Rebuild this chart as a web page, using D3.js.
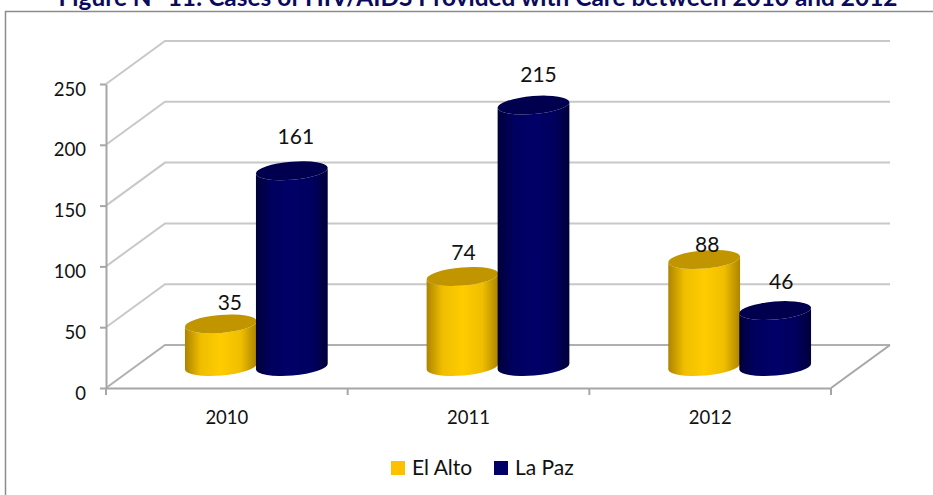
<!DOCTYPE html>
<html>
<head>
<meta charset="utf-8">
<script src="https://cdn.jsdelivr.net/npm/d3@7"></script>
<style>
html, body { margin: 0; padding: 0; background: #fff; overflow: hidden; }
svg { display: block; }
text { font-family: Lato, "Open Sans", sans-serif; fill: #111; }
.domain { stroke: #a6a6a6; stroke-width: 2; }
.tick line { stroke: #a6a6a6; stroke-width: 2; }
</style>
</head>
<body>
<div id="chart"></div>
<script>
var years = ["2010", "2011", "2012"];
var seriesNames = ["El Alto", "La Paz"];
var elAlto = [35, 74, 88];
var laPaz = [161, 215, 46];
var yTicks = [0, 50, 100, 150, 200, 250];
var title = "Figure N° 11: Cases of HIV/AIDS Provided with Care between 2010 and 2012";

var W = 933, H = 495;
// plot box, front plane
var LEFT = 106, RIGHT = 831, BOTTOM = 388, TOP = 84;
// how far the back wall is shifted from the front
var DEPTH_X = 59, DEPTH_Y = 43;
var RY = 9;
var TILT = -4.7; // degrees, the ellipses lean up to the right

// manual shifts of the value labels, [series][year]
var NUDGE = [
    [[9, -21], [1, -24], [3, -15]],
    [[4, -34], [5, -30], [6, -29]]
];

var COLORS = {
    "El Alto": {edge: "#ad8400", mid: "#ffcc00", top: "#c19500", legend: "#ffc000"},
    "La Paz": {edge: "#00003a", mid: "#000068", top: "#00004e", legend: "#000066"}
};

var values = [elAlto, laPaz];

var svg = d3.select('#chart').append('svg').attr('width', W).attr('height', H);

var x0 = d3.scaleBand().domain(years).range([LEFT, RIGHT]);
var x1 = d3.scaleBand().domain(seriesNames).range([-71, 71]);
var y = d3.scaleLinear().domain([0, 250]).range([BOTTOM, TOP]);

// gradients
var defs = svg.append('defs');
seriesNames.forEach(function(s, i) {
    var g = defs.append('linearGradient').attr('id', 'grad' + i);
    g.append('stop').attr('offset', '0%').attr('stop-color', COLORS[s].edge);
    g.append('stop').attr('offset', '22%').attr('stop-color', d3.interpolateRgb(COLORS[s].edge, COLORS[s].mid)(0.8));
    g.append('stop').attr('offset', '50%').attr('stop-color', COLORS[s].mid);
    g.append('stop').attr('offset', '78%').attr('stop-color', d3.interpolateRgb(COLORS[s].edge, COLORS[s].mid)(0.8));
    g.append('stop').attr('offset', '100%').attr('stop-color', COLORS[s].edge);
});

// chart frame, runs off the page on the right and bottom
svg.append('rect')
    .attr('x', 5.5).attr('y', 11.5).attr('width', W + 20).attr('height', H)
    .attr('fill', '#fff').attr('stroke', '#8c8c8c').attr('stroke-width', 1.5);

// title, cut off by the top of the page
svg.append('text')
    .attr('x', 478).attr('y', 6)
    .attr('text-anchor', 'middle')
    .style('font-size', '24.4px')
    .style('font-weight', 'bold')
    .style('fill', '#0a0a5e')
    .text(title);

// gridlines: side wall + back wall
var grid = svg.append('g');
yTicks.forEach(function(t) {
    var yy = y(t);
    grid.append('polyline')
        .attr('points', LEFT + ',' + yy + ' ' + (LEFT + DEPTH_X) + ',' + (yy - DEPTH_Y) + ' ' + (RIGHT + DEPTH_X) + ',' + (yy - DEPTH_Y))
        .attr('fill', 'none')
        .attr('stroke', t == 0 ? '#b0b0b0' : '#c8c8c8')
        .attr('stroke-width', 2);
});
// floor right edge
grid.append('line')
    .attr('x1', RIGHT).attr('y1', BOTTOM)
    .attr('x2', RIGHT + DEPTH_X).attr('y2', BOTTOM - DEPTH_Y)
    .attr('stroke', '#a6a6a6').attr('stroke-width', 2);

// axes
var yAxis = svg.append('g')
    .attr('transform', 'translate(' + LEFT + ',0)')
    .call(d3.axisLeft(y).tickValues(yTicks).tickSize(6).tickPadding(14).tickSizeOuter(0));
yAxis.selectAll('text').attr('dy', '0.6em').style('font-size', '18.5px').style('font-family', 'Lato');

var xAxis = svg.append('g')
    .attr('transform', 'translate(0,' + BOTTOM + ')')
    .call(d3.axisBottom(x0).tickSize(0).tickPadding(23));
xAxis.selectAll('text').style('font-size', '18.5px').style('font-family', 'Lato');
// ticks sit between the categories
var xTicks = x0.domain().map(function(d) { return x0(d); }).concat([RIGHT]);
svg.append('g').selectAll('line')
    .data(xTicks)
    .enter()
    .append('line')
    .attr('x1', function(d) { return d; }).attr('x2', function(d) { return d; })
    .attr('y1', BOTTOM).attr('y2', BOTTOM + 7)
    .attr('stroke', '#a6a6a6').attr('stroke-width', 2);

// cylinders
function cylinder(g, cx, yTop, yBase, rx, i) {
    var a = TILT * Math.PI / 180;
    var dx = rx * Math.cos(a), dy = rx * Math.sin(a);
    var d = 'M' + (cx - dx) + ',' + (yTop - dy)
        + ' L' + (cx - dx) + ',' + (yBase - dy)
        + ' A' + rx + ',' + RY + ' ' + TILT + ' 0 0 ' + (cx + dx) + ',' + (yBase + dy)
        + ' L' + (cx + dx) + ',' + (yTop + dy)
        + ' A' + rx + ',' + RY + ' ' + TILT + ' 0 1 ' + (cx - dx) + ',' + (yTop - dy) + ' Z';
    g.append('path').attr('d', d).attr('fill', 'url(#grad' + i + ')');
    g.append('ellipse')
        .attr('cx', cx).attr('cy', yTop)
        .attr('rx', rx).attr('ry', RY)
        .attr('transform', 'rotate(' + TILT + ' ' + cx + ' ' + yTop + ')')
        .attr('fill', COLORS[seriesNames[i]].top);
}

var bars = svg.append('g');
var rx = x1.bandwidth() / 2 + 0.5;
years.forEach(function(yr, k) {
    seriesNames.forEach(function(s, i) {
        var cx = x0(yr) + x0.bandwidth() / 2 + DEPTH_X / 2 + x1(s) + x1.bandwidth() / 2;
        cylinder(bars, cx, y(values[i][k]) - DEPTH_Y / 2, y(0) - DEPTH_Y / 2, rx, i);
    });
});

// value labels
seriesNames.forEach(function(s, i) {
    years.forEach(function(yr, k) {
        var cx = x0(yr) + x0.bandwidth() / 2 + DEPTH_X / 2 + x1(s) + x1.bandwidth() / 2;
        svg.append('text')
            .attr('x', cx + NUDGE[i][k][0])
            .attr('y', y(values[i][k]) - DEPTH_Y / 2 + NUDGE[i][k][1])
            .attr('dy', '0.35em')
            .attr('text-anchor', 'middle')
            .style('font-size', '21px')
            .text(values[i][k]);
    });
});

// legend
var legendX = [384, 487];
var legend = svg.append('g').selectAll('g')
    .data(seriesNames)
    .enter()
    .append('g')
    .attr('transform', function(d, i) { return 'translate(' + legendX[i] + ',468)'; });
legend.append('rect')
    .attr('x', 7).attr('y', -7)
    .attr('width', 14).attr('height', 14)
    .attr('fill', function(d) { return COLORS[d].legend; });
legend.append('text')
    .attr('x', 28).attr('dy', '0.35em')
    .style('font-size', '21px')
    .text(function(d) { return d; });
</script>
</body>
</html>
